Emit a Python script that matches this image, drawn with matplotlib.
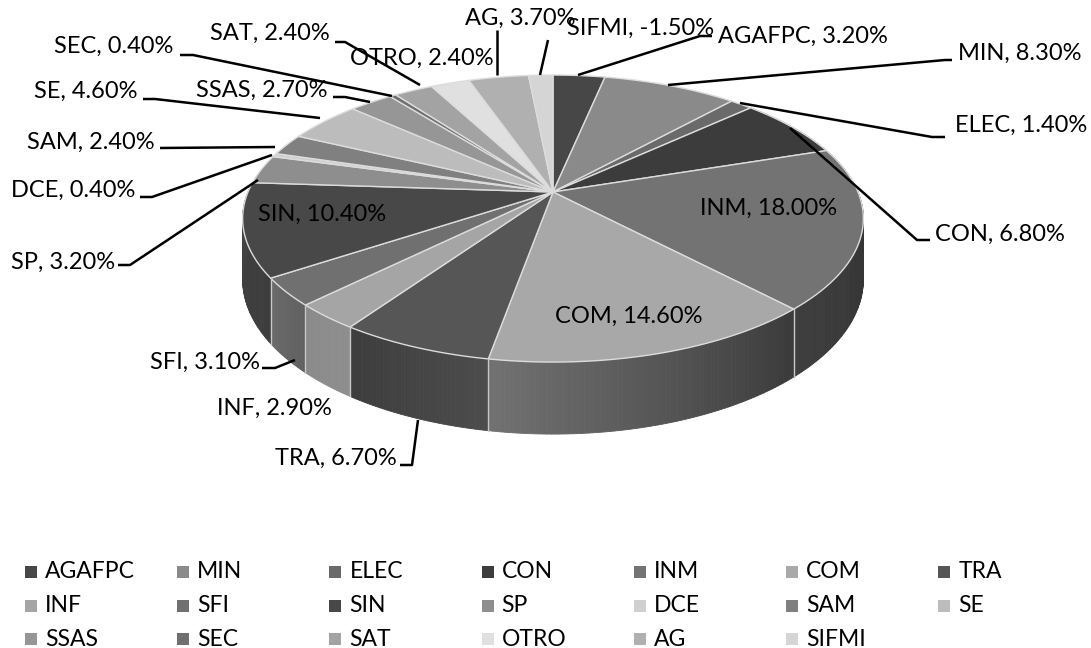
import matplotlib
matplotlib.use("Agg")
import matplotlib.pyplot as plt
import numpy as np
from matplotlib.colors import to_rgb
from matplotlib.patches import Polygon, Rectangle

plt.rcParams["font.family"] = ["Lato", "DejaVu Sans"]

categories = ["AGAFPC", "MIN", "ELEC", "CON", "INM", "COM", "TRA", "INF", "SFI", "SIN",
              "SP", "DCE", "SAM", "SE", "SSAS", "SEC", "SAT", "OTRO", "AG", "SIFMI"]
values = [3.2, 8.3, 1.4, 6.8, 18.0, 14.6, 6.7, 2.9, 3.1, 10.4,
          3.2, 0.4, 2.4, 4.6, 2.7, 0.4, 2.4, 2.4, 3.7, -1.5]
colors = ["#474747", "#8a8a8a", "#6a6a6a", "#3c3c3c", "#737373", "#a8a8a8", "#565656",
          "#a5a5a5", "#707070", "#484848", "#8e8e8e", "#cfcfcf", "#808080", "#bcbcbc",
          "#969696", "#6f6f6f", "#a3a3a3", "#e0e0e0", "#b0b0b0", "#d5d5d5"]
# colours of the pie wall: start and end of each slice, clockwise
side_colors = {"CON": ("#2c2c2c", "#2c2c2c"), "INM": ("#2c2c2c", "#3e3e3e"),
               "COM": ("#3a3a3a", "#727272"), "TRA": ("#4c4c4c", "#3c3c3c"),
               "INF": ("#8e8e8e", "#8a8a8a"), "SFI": ("#606060", "#6a6a6a"),
               "SIN": ("#3c3c3c", "#444444")}

# label text position (x, y, ha) and leader line, in image pixels
label_pos = {
    "AGAFPC": (718, 36, "left"), "MIN": (958, 53, "left"), "ELEC": (955, 125, "left"),
    "CON": (935, 234, "left"), "INM": (700, 208, "left"), "COM": (555, 316, "left"),
    "TRA": (397, 458, "right"), "INF": (332, 408, "right"), "SFI": (260, 362, "right"),
    "SIN": (258, 214, "left"), "SP": (115, 262, "right"), "DCE": (135, 190, "right"),
    "SAM": (155, 142, "right"), "SE": (137, 91, "right"), "SSAS": (327, 90, "right"),
    "SEC": (173, 46, "right"), "SAT": (330, 33, "right"), "OTRO": (350, 58, "left"),
    "AG": (465, 18, "left"), "SIFMI": (567, 28, "left"),
}
leaders = {
    "AGAFPC": [(578, 75), (700, 36), (712, 36)],
    "MIN": [(668, 85), (945, 60), (952, 60)],
    "ELEC": [(740, 103), (932, 137), (945, 137)],
    "CON": [(790, 128), (917, 240), (930, 240)],
    "TRA": [(418, 420), (412, 465), (400, 465)],
    "SFI": [(295, 360), (275, 368), (262, 368)],
    "SP": [(258, 180), (130, 265), (118, 265)],
    "DCE": [(272, 155), (152, 197), (140, 197)],
    "SAM": [(275, 147), (160, 148)],
    "SE": [(320, 118), (155, 99), (143, 99)],
    "SSAS": [(370, 102), (345, 97), (333, 97)],
    "SEC": [(392, 96), (193, 55), (180, 55)],
    "SAT": [(420, 85), (345, 42), (335, 42)],
    "AG": [(497, 75), (497, 30)],
    "SIFMI": [(540, 75), (548, 40)],
}


def project(theta):
    # circle seen in perspective, theta clockwise from the top
    u, v = np.sin(theta), np.cos(theta)
    w = 1 + 0.185 * v
    return 553 + 305 * u / w, 192 - 138.6 * v / w, 58.7 / w


fig = plt.figure(figsize=(10.91, 6.48), dpi=100)
ax = fig.add_axes([0, 0, 1, 1])
ax.set_xlim(0, 1091)
ax.set_ylim(648, 0)
ax.axis("off")

sizes = np.abs(values)
edges = np.concatenate([[0], np.cumsum(sizes)]) / sizes.sum() * 2 * np.pi

# wall first, then the top face over it
for name, start, end, color in zip(categories, edges[:-1], edges[1:], colors):
    if name not in side_colors:
        continue
    c0, c1 = [np.array(to_rgb(c)) for c in side_colors[name]]
    th = np.linspace(start, end, max(int((end - start) * 90), 3))
    for i in range(len(th) - 1):
        x0, y0, d0 = project(th[i])
        x1, y1, d1 = project(th[i + 1])
        t = i / (len(th) - 1)
        col = c0 + (c1 - c0) * t
        ax.add_patch(Polygon([(x0, y0), (x1, y1), (x1, y1 + d1), (x0, y0 + d0)],
                             facecolor=col, edgecolor=col, lw=0.6))
    # light seam between wall sections
    x0, y0, d0 = project(start)
    if np.cos(start) < -0.185:
        ax.plot([x0, x0], [y0, y0 + d0], color="#c8c8c8", lw=1)

for name, start, end, color in zip(categories, edges[:-1], edges[1:], colors):
    th = np.linspace(start, end, 60)
    x, y, _ = project(th)
    pts = [(553, 192)] + list(zip(x, y))
    ax.add_patch(Polygon(pts, closed=True, facecolor=color, edgecolor="#dcdcdc", lw=1.0))

for name, value in zip(categories, values):
    pts = leaders.get(name)
    if pts:
        xs, ys = zip(*pts)
        ax.plot(xs, ys, color="black", lw=1.8, solid_capstyle="butt")
    lx, ly, ha = label_pos[name]
    ax.text(lx, ly, f"{name}, {value:.2f}%", ha=ha, va="center", fontsize=17, color="black")

# legend, filled row by row
for i, (name, color) in enumerate(zip(categories, colors)):
    col, row = i % 7, i // 7
    lx = 25 + col * 152.2
    ly = 572 + row * 33.5
    ax.add_patch(Rectangle((lx, ly - 6), 12, 12, facecolor=color, edgecolor="none"))
    ax.text(lx + 20, ly, name, ha="left", va="center", fontsize=16.5, color="black")

fig.savefig("out.png", dpi=100)
